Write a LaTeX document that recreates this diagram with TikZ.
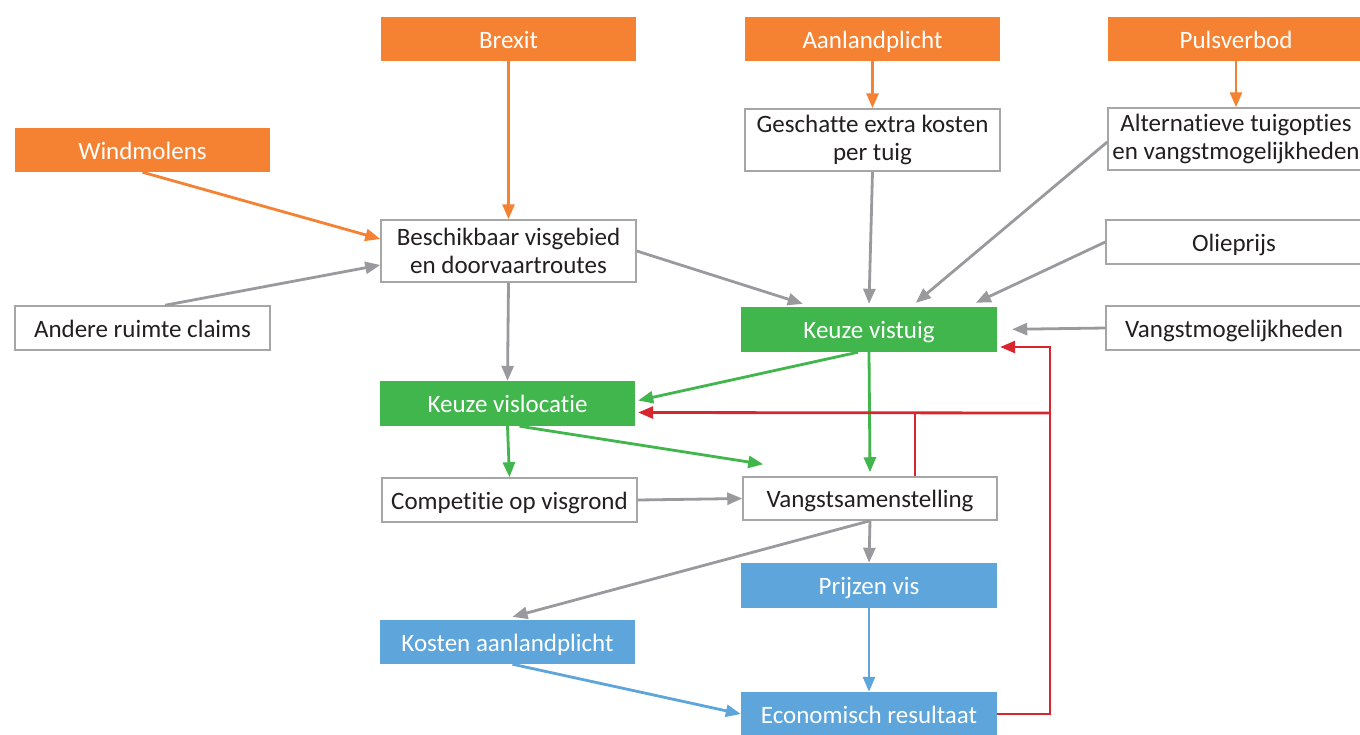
\documentclass[tikz,border=0pt]{standalone}
\usepackage{fontspec}
\setmainfont{Carlito}[Ligatures={NoCommon}]
\usetikzlibrary{arrows.meta,calc}
\definecolor{cor}{HTML}{F58232}
\definecolor{cgr}{HTML}{41B64C}
\definecolor{cbl}{HTML}{5DA5DA}
\definecolor{cre}{HTML}{D7262E}
\definecolor{cln}{HTML}{9A9A9E}
\definecolor{cbd}{HTML}{A6A6A6}
\definecolor{ctx}{HTML}{231F20}
\tikzset{
  base/.style={minimum width=255pt, minimum height=44pt, inner sep=0pt, align=center,
    font=\fontsize{25}{28}\selectfont},
  one/.style={text height=19pt, text depth=1pt},
  obox/.style={base, one, fill=cor, text=white},
  gbox/.style={base, one, fill=cgr, text=white},
  bbox/.style={base, one, fill=cbl, text=white},
  wbox/.style={base, fill=white, draw=cbd, line width=1.5pt, text=ctx},
  con/.style={line width=2.8pt, -{Triangle[length=15pt,width=12pt]}},
  ocon/.style={con, draw=cor},
  gcon/.style={con, draw=cln},
  grcon/.style={con, draw=cgr},
  bcon/.style={con, draw=cbl},
  rcon/.style={con, draw=cre},
  rline/.style={line width=2.8pt, draw=cre},
}
\begin{document}
\begin{tikzpicture}[x=1pt,y=-1pt]
\useasboundingbox (0,0) rectangle (1360,734);
\fill[white] (0,0) rectangle (1360,734);

\node[obox] (brexit) at (508.5,39) {Brexit};
\node[obox] (aanl) at (872.5,39) {Aanlandplicht};
\node[obox, minimum width=256pt] (puls) at (1236,39) {Pulsverbod};
\node[obox] (wind) at (142.5,150) {Windmolens};
\node[wbox, minimum height=62pt] (besch) at (508.5,251) {Beschikbaar visgebied\\en doorvaartroutes};
\node[wbox, minimum height=62pt] (gesch) at (872.5,140) {Geschatte extra kosten\\per tuig};
\node[wbox, minimum height=62pt, minimum width=256pt] (alt) at (1236,139) {Alternatieve tuigopties\\en vangstmogelijkheden};
\node[wbox, one, minimum width=256pt] (olie) at (1234,242) {Olieprijs};
\node[wbox, one] (andere) at (142.5,328) {Andere ruimte claims};
\node[gbox, minimum width=256pt, minimum height=45pt] (kvt) at (869,329.5) {Keuze vistuig};
\node[wbox, one, minimum width=256pt] (vangstm) at (1234,328) {Vangstmogelijkheden};
\node[gbox, minimum height=45pt] (kvl) at (507.5,403.5) {Keuze vislocatie};
\node[wbox, one] (comp) at (509.5,500) {Competitie op visgrond};
\node[wbox, one, minimum width=254pt, minimum height=43pt] (vangsts) at (870,498.5) {Vangstsamenstelling};
\node[bbox, minimum width=256pt, minimum height=45pt] (prijzen) at (869,585.5) {Prijzen vis};
\node[bbox] (kosten) at (507.5,642) {Kosten aanlandplicht};
\node[bbox, minimum width=256pt] (econ) at (869,714) {Economisch resultaat};

% orange
\draw[ocon] (brexit.south) -- (besch.north);
\draw[ocon] (wind.south) -- ([yshift=12pt]besch.west);
\draw[ocon] (aanl.south) -- (gesch.north);
\draw[ocon] (puls.south) -- (alt.north);
% grey
\draw[gcon] ([xshift=22.5pt]andere.north) -- ([yshift=-14pt]besch.west);
\draw[gcon] (besch.south) -- (kvl.north);
\draw[gcon] (besch.east) -- ([xshift=62pt,yshift=3pt]kvt.north west);
\draw[gcon] (gesch.south) -- ([yshift=3pt]kvt.north);
\draw[gcon] ([yshift=-3pt]alt.west) -- ([xshift=175pt,yshift=4pt]kvt.north west);
\draw[gcon] (olie.west) -- ([xshift=235pt,yshift=4pt]kvt.north west);
\draw[gcon, shorten >=15pt] (vangstm.west) -- (kvt.east);
\draw[gcon] (comp.east) -- (vangsts.west);
\draw[gcon] (vangsts.south) -- (prijzen.north);
\draw[gcon] (vangsts.south) -- ([xshift=5pt,yshift=3pt]kosten.north);
% green
\draw[grcon] ([xshift=-11pt]kvt.south) -- ([xshift=3pt,yshift=3pt]kvl.east);
\draw[grcon] (kvt.south) -- ([yshift=4pt]vangsts.north);
\draw[grcon] (kvl.south) -- (comp.north);
\draw[grcon] ([xshift=12pt]kvl.south) -- ([xshift=21pt,yshift=12pt]vangsts.north west);
% blue
\draw[bcon] (prijzen.south) -- (econ.north);
\draw[bcon] ([xshift=5pt]kosten.south) -- (econ.west);
% red feedback
\coordinate (rjoin) at (1050,413);
\draw[rline] ([xshift=45pt]vangsts.north) -- ([xshift=45pt]vangsts.north |- rjoin);
\draw[rcon] (econ.east) -| (rjoin) |- ([yshift=-17.5pt,xshift=3pt]kvt.east);
\draw[rcon] (rjoin) -- ([xshift=3pt,yshift=-9pt]kvl.east);
\end{tikzpicture}
\end{document}
